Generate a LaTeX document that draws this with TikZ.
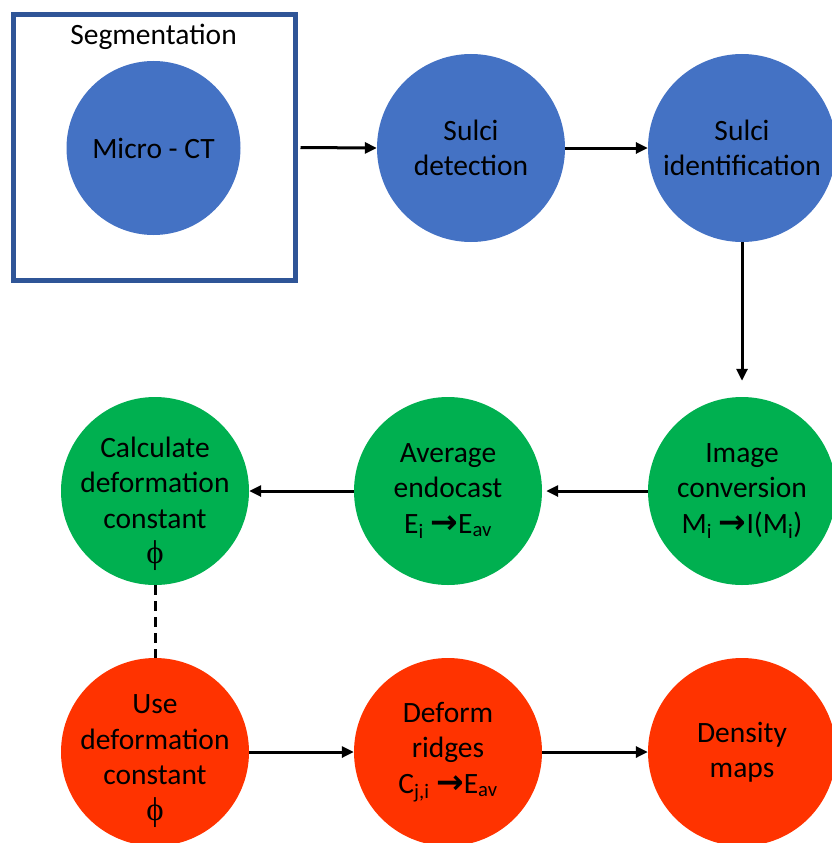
\documentclass[tikz,border=0pt]{standalone}
\usepackage{fontspec}
\setmainfont{Carlito}
\newfontfamily\phifont{Liberation Serif}
\newfontfamily\arrfont{DejaVu Sans}
\usetikzlibrary{arrows.meta}
\definecolor{cblue}{HTML}{4472C4}
\definecolor{cgreen}{HTML}{00B050}
\definecolor{cred}{HTML}{FF3300}
\definecolor{cframe}{HTML}{2F5597}
\newcommand{\phisym}{{\phifont\fontsize{33}{35}\selectfont ϕ}}
\newcommand{\toarr}{{\arrfont\bfseries\fontsize{33}{35}\selectfont →}}

\begin{document}
\begin{tikzpicture}
      [x=1pt,y=-1pt
      ,txt/.style={align=center,inner sep=0pt,font=\fontsize{29.5}{35.5}\selectfont}
      ,circ/.style={circle,minimum size=188pt,txt}
      ,blu/.style={circ,fill=cblue}
      ,grn/.style={circ,fill=cgreen}
      ,org/.style={circ,fill=cred}
      ,lin/.style={line width=3pt,-{Triangle[length=12pt,width=11pt]}}
      ,lindot/.style={line width=3pt,dash pattern=on 10pt off 6pt}
      ]
        \useasboundingbox (0,0) rectangle (832,843);
        \clip (0,0) rectangle (832,843);
        % top row
        \node[draw=cframe,line width=5pt,inner sep=0pt,minimum width=282pt,minimum height=266pt] (seg) at (154.5,147.5) {};
        \node[txt,anchor=base] (segtxt) at (153.5,45) {Segmentation};
        \node[blu,minimum size=174pt] (micro) at (153.5,148) {Micro - CT};
        \node[blu] (det) at (471,148) {Sulci\\detection};
        \node[blu] (ident) at (742,148) {Sulci\\identification};
        % middle row
        \node[grn] (image) at (742,491) {Image\\conversion\\M\textsubscript{i} \toarr I(M\textsubscript{i})};
        \node[grn] (avg) at (448,491) {Average\\endocast\\E\textsubscript{i} \toarr E\textsubscript{av}};
        \node[grn] (calc) at (155,491) {};
        \node[txt] (calctxt) at ([yshift=-13pt]calc.center) {Calculate\\deformation\\constant\\\phisym};
        % bottom row
        \node[org] (use) at (155,752) {};
        \node[txt] (usetxt) at ([yshift=-9pt]use.center) {Use\\deformation\\constant\\\phisym};
        \node[org] (deform) at (448,752) {Deform\\ridges\\C\textsubscript{j,i} \toarr E\textsubscript{av}};
        \node[org] (density) at (742,752) {Density\\maps};
        % connectors
        \draw[lin,shorten <=2.5pt] (seg.east) -- (det.west);
        \draw[lin] (det.east) -- (ident.west);
        \draw[lin,shorten >=16pt] (ident.south) -- (image.north);
        \draw[lin,shorten >=4pt] (image.west) -- (avg.east);
        \draw[lin] (avg.west) -- (calc.east);
        \draw[lindot] (calc.south) -- (use.north);
        \draw[lin] (use.east) -- (deform.west);
        \draw[lin] (deform.east) -- (density.west);
      \end{tikzpicture}
\end{document}
